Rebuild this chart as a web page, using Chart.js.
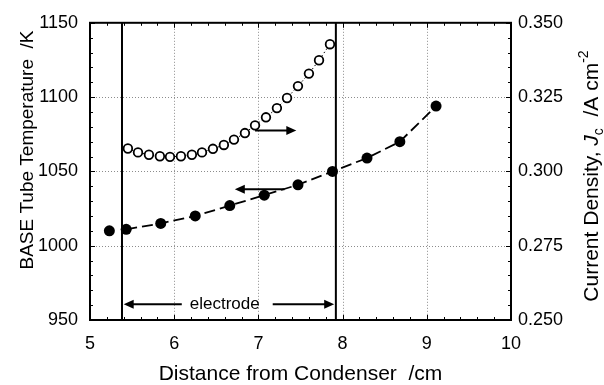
<!DOCTYPE html>
<html>
<head>
<meta charset="utf-8">
<script src="https://cdn.jsdelivr.net/npm/chart.js@4.4.0/dist/chart.umd.min.js"></script>
<style>
  body { margin: 0; background: #fff; }
</style>
</head>
<body>
<canvas id="chart" width="604" height="385"></canvas>
<script>
// BASE tube temperature (filled circles, left axis)
const tempX = [5.23, 5.43, 5.84, 6.25, 6.66, 7.07, 7.47, 7.88, 8.29, 8.68, 9.11];
const tempK = [1010, 1011, 1015, 1020, 1027, 1034, 1041, 1050, 1059, 1070, 1094];

// current density (open circles, right axis)
const jcX = [5.45, 5.57, 5.70, 5.83, 5.95, 6.08, 6.21, 6.33, 6.46, 6.59,
             6.71, 6.84, 6.96, 7.09, 7.22, 7.34, 7.47, 7.60, 7.72, 7.85];
const jcVal = [0.3077, 0.3064, 0.3056, 0.3051, 0.3049, 0.3051, 0.3056, 0.3064, 0.3076, 0.3089,
               0.3107, 0.3129, 0.3155, 0.3182, 0.3213, 0.3247, 0.3287, 0.3329, 0.3374, 0.3428];

// electrode edges
const electrodeX = [5.38, 7.92];

// tick values
const xTicks = [5, 6, 7, 8, 9, 10];
const tempTicks = [950, 1000, 1050, 1100, 1150];
const jcTicks = [0.250, 0.275, 0.300, 0.325, 0.350];

const FONT = "'Liberation Sans', Arial, Helvetica, sans-serif";

function arrow(ctx, x1, y1, x2, y2) {
  // shaft from (x1,y1), head at (x2,y2)
  const dir = Math.sign(x2 - x1);
  ctx.beginPath();
  ctx.moveTo(x1, y1);
  ctx.lineTo(x2 - dir * 8, y2);
  ctx.stroke();
  ctx.beginPath();
  ctx.moveTo(x2, y2);
  ctx.lineTo(x2 - dir * 10, y2 - 4.5);
  ctx.lineTo(x2 - dir * 10, y2 + 4.5);
  ctx.closePath();
  ctx.fill();
}

const decor = {
  id: 'decor',
  beforeDatasetsDraw(chart) {
    const { ctx, chartArea: a, scales } = chart;
    const x = scales.x, y = scales.y, y2 = scales.y2;
    ctx.save();

    // dotted grid
    ctx.strokeStyle = '#8c8c8c';
    ctx.lineWidth = 1;
    ctx.setLineDash([1, 2]);
    xTicks.slice(1, -1).forEach(v => {
      const px = Math.round(x.getPixelForValue(v)) + 0.5;
      ctx.beginPath(); ctx.moveTo(px, a.top); ctx.lineTo(px, a.bottom); ctx.stroke();
    });
    tempTicks.slice(1, -1).forEach(v => {
      const py = Math.round(y.getPixelForValue(v)) + 0.5;
      ctx.beginPath(); ctx.moveTo(a.left, py); ctx.lineTo(a.right, py); ctx.stroke();
    });
    ctx.setLineDash([]);

    // electrode boundaries
    ctx.strokeStyle = '#000';
    ctx.lineWidth = 2;
    electrodeX.forEach(v => {
      const px = x.getPixelForValue(v);
      ctx.beginPath(); ctx.moveTo(px, a.top); ctx.lineTo(px, a.bottom); ctx.stroke();
    });

    // arrows
    ctx.fillStyle = '#000';
    ctx.lineWidth = 2;
    const yt = y.getPixelForValue(1038);
    arrow(ctx, x.getPixelForValue(7.31), yt, x.getPixelForValue(6.72), yt);
    const yj = y2.getPixelForValue(0.3138);
    arrow(ctx, x.getPixelForValue(6.96), yj, x.getPixelForValue(7.45), yj);

    const ye = y.getPixelForValue(960.6);
    arrow(ctx, x.getPixelForValue(6.09), ye, x.getPixelForValue(5.40), ye);
    arrow(ctx, x.getPixelForValue(7.17), ye, x.getPixelForValue(7.90), ye);
    ctx.font = '17px ' + FONT;
    ctx.textAlign = 'center';
    ctx.textBaseline = 'middle';
    ctx.fillText('electrode', x.getPixelForValue(6.6), ye);

    ctx.restore();
  },
  afterDraw(chart) {
    const { ctx, chartArea: a, scales } = chart;
    const x = scales.x, y = scales.y;
    ctx.save();

    // frame
    ctx.strokeStyle = '#000';
    ctx.lineWidth = 2;
    ctx.strokeRect(a.left, a.top, a.right - a.left, a.bottom - a.top);

    // inner tick marks
    ctx.lineWidth = 1;
    ctx.beginPath();
    for (let i = 0; i <= 25; i++) {
      const v = 5 + i * 0.2;
      const px = Math.round(x.getPixelForValue(v)) + 0.5;
      const len = i % 5 === 0 ? 5 : 3;
      ctx.moveTo(px, a.bottom); ctx.lineTo(px, a.bottom - len);
      ctx.moveTo(px, a.top); ctx.lineTo(px, a.top + len);
    }
    for (let i = 0; i <= 20; i++) {
      const v = 950 + i * 10;
      const py = Math.round(y.getPixelForValue(v)) + 0.5;
      const len = i % 5 === 0 ? 5 : 3;
      ctx.moveTo(a.left, py); ctx.lineTo(a.left + len, py);
      ctx.moveTo(a.right, py); ctx.lineTo(a.right - len, py);
    }
    ctx.stroke();

    // axis titles
    ctx.fillStyle = '#000';
    ctx.textBaseline = 'alphabetic';
    ctx.textAlign = 'center';
    ctx.font = '21px ' + FONT;
    ctx.fillText('Distance from Condenser  /cm', (a.left + a.right) / 2, 380);

    ctx.save();
    ctx.translate(33, 150);
    ctx.rotate(-Math.PI / 2);
    ctx.font = '19px ' + FONT;
    ctx.fillText('BASE Tube Temperature  /K', 0, 0);
    ctx.restore();

    // right title with italic J, subscript c, superscript -2
    const parts = [
      { t: 'Current Density, ', f: '21px ' + FONT, dy: 0 },
      { t: 'J', f: 'italic 21px ' + FONT, dy: 0 },
      { t: 'c', f: '14px ' + FONT, dy: 5 },
      { t: '  /A cm', f: '21px ' + FONT, dy: 0 },
      { t: '-2', f: '14px ' + FONT, dy: -10 }
    ];
    let total = 0;
    parts.forEach(p => { ctx.font = p.f; p.w = ctx.measureText(p.t).width; total += p.w; });
    ctx.save();
    ctx.translate(598, 176);
    ctx.rotate(-Math.PI / 2);
    ctx.textAlign = 'left';
    let cx = -total / 2;
    parts.forEach(p => { ctx.font = p.f; ctx.fillText(p.t, cx, p.dy); cx += p.w; });
    ctx.restore();

    ctx.restore();
  }
};

const tempPts = tempX.map((v, i) => ({ x: v, y: tempK[i] }));
const jcPts = jcX.map((v, i) => ({ x: v, y: jcVal[i] }));

const tickFont = { family: FONT, size: 18 };

new Chart(document.getElementById('chart'), {
  type: 'scatter',
  data: {
    datasets: [
      {
        label: 'BASE tube temperature',
        data: tempPts,
        yAxisID: 'y',
        showLine: true,
        borderColor: '#000',
        borderWidth: 1.8,
        borderDash: [11, 5],
        segment: { borderColor: c => c.p0DataIndex === 0 ? 'rgba(0,0,0,0)' : '#000' },
        pointRadius: 5.5,
        pointBackgroundColor: '#000',
        pointBorderColor: '#000',
        pointBorderWidth: 0
      },
      {
        label: 'Current density',
        data: jcPts,
        yAxisID: 'y2',
        showLine: true,
        borderColor: '#000',
        borderWidth: 1,
        borderDash: [1.5, 2.5],
        pointRadius: 4.3,
        pointBackgroundColor: '#fff',
        pointBorderColor: '#000',
        pointBorderWidth: 1.8
      }
    ]
  },
  options: {
    responsive: false,
    animation: false,
    layout: { padding: { top: 18, left: 0, right: 0, bottom: 0 } },
    plugins: { legend: { display: false }, tooltip: { enabled: false } },
    scales: {
      x: {
        type: 'linear',
        min: 5, max: 10,
        afterBuildTicks: s => { s.ticks = xTicks.map(v => ({ value: v })); },
        ticks: { color: '#000', font: tickFont, padding: 13, maxRotation: 0, callback: v => String(v) },
        grid: { display: false, drawTicks: false },
        border: { display: false },
        afterFit: s => { s.height = 65; }
      },
      y: {
        position: 'left',
        min: 950, max: 1150,
        afterBuildTicks: s => { s.ticks = tempTicks.map(v => ({ value: v })); },
        ticks: { color: '#000', font: tickFont, padding: 12, callback: v => String(v) },
        grid: { display: false, drawTicks: false },
        border: { display: false },
        afterFit: s => { s.width = 90; }
      },
      y2: {
        position: 'right',
        min: 0.25, max: 0.35,
        afterBuildTicks: s => { s.ticks = jcTicks.map(v => ({ value: v })); },
        ticks: { color: '#000', font: tickFont, padding: 7, callback: v => v.toFixed(3) },
        grid: { display: false, drawTicks: false },
        border: { display: false },
        afterFit: s => { s.width = 93; }
      }
    }
  },
  plugins: [decor]
});
</script>
</body>
</html>
